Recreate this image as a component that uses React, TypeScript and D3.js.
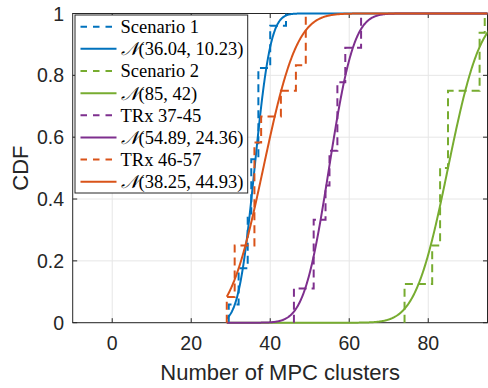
import React from "react";
import * as d3 from "d3";

// ---- data ----
const xTicks = [0, 20, 40, 60, 80];
const yTicks = [0, 0.2, 0.4, 0.6, 0.8, 1];
const yTickLabels = ["0", "0.2", "0.4", "0.6", "0.8", "1"];

// empirical CDF steps (x where step occurs, CDF level after step)
const s1X = [29.5, 32, 34.3, 35.2, 37, 40, 44];
const s1P = [0.059, 0.176, 0.353, 0.529, 0.824, 0.96, 1];
const s2X = [74, 81, 83, 85, 93, 94.3];
const s2P = [0.125, 0.25, 0.5, 0.75, 0.9375, 1];
const trxAX = [46, 51, 54, 55, 57, 59, 63];
const trxAP = [0.111, 0.333, 0.444, 0.556, 0.778, 0.889, 1];
const trxBX = [29, 31, 36, 37.7, 42.7, 46.5, 49];
const trxBP = [0.083, 0.25, 0.583, 0.667, 0.75, 0.833, 1];

// fitted normals N(mu, variance)
const fitMu = [36.04, 85, 54.89, 38.25];
const fitVar = [10.23, 42, 24.36, 44.93];
const fitStart = 29;
const fitEnd = 96;

const colors = ["#0072BD", "#77AC30", "#7E2F8E", "#D95319"];
const dashedNames = ["Scenario 1", "Scenario 2", "TRx 37-45", "TRx 46-57"];

const W = 488;
const H = 388;
const L = 72.7, R = 487.5, T = 13.5, B = 322.7;

function erf(x: number) {
  const s = x < 0 ? -1 : 1;
  const a = Math.abs(x);
  const t = 1 / (1 + 0.3275911 * a);
  const y = 1 - (((((1.061405429 * t - 1.453152027) * t) + 1.421413741) * t - 0.284496736) * t + 0.254829592) * t * Math.exp(-a * a);
  return s * y;
}
const normCdf = (x: number, mu: number, v: number) => 0.5 * (1 + erf((x - mu) / Math.sqrt(2 * v)));

export default function App() {
  const x = d3.scaleLinear().domain([-10, 95]).range([L, R]);
  const y = d3.scaleLinear().domain([0, 1]).range([B, T]);

  const stairs = [
    [s1X, s1P],
    [s2X, s2P],
    [trxAX, trxAP],
    [trxBX, trxBP],
  ];
  const stairPath = (xs: number[], ps: number[]) => {
    const pts: [number, number][] = [[xs[0], 0]];
    xs.forEach((xv, i) => {
      if (i > 0) pts.push([xv, ps[i - 1]]);
      pts.push([xv, ps[i]]);
    });
    return d3.line<[number, number]>().x((d) => x(d[0])).y((d) => y(d[1]))(pts) || "";
  };
  const grid = d3.range(fitStart, fitEnd + 0.001, 0.1);
  const fitPath = (k: number) =>
    d3.line<number>().x((d) => x(d)).y((d) => y(normCdf(d, fitMu[k], fitVar[k])))(grid) || "";

  const fitLabels = fitMu.map((m, k) => `(${m}, ${fitVar[k]})`);

  const legendItems: { label: string; k: number; dashed: boolean; fit: boolean }[] = [];
  for (let k = 0; k < 4; k++) {
    legendItems.push({ label: dashedNames[k], k, dashed: true, fit: false });
    legendItems.push({ label: fitLabels[k], k, dashed: false, fit: true });
  }

  const sans = "'Liberation Sans', Arial, Helvetica, sans-serif";
  const serif = "'Liberation Serif', 'Times New Roman', serif";
  const axisColor = "#262626";
  const tickLen = 4.5;

  const lgX = 75, lgY = 15, lgW = 172.7, lgH = 178;
  const rowY0 = 26.7, rowDy = 22.15;

  return (
    <svg width={W} height={H} style={{ position: "absolute", left: 0, top: 0, background: "#fff" }}>
      <defs>
        <clipPath id="plotclip">
          <rect x={L} y={T - 2} width={R - L} height={B - T + 4} />
        </clipPath>
      </defs>
      <rect x={0} y={0} width={W} height={H} fill="#fff" />
      {/* grid */}
      {xTicks.map((t) => (
        <line key={"gx" + t} x1={x(t)} x2={x(t)} y1={T} y2={B} stroke="#e6e6e6" strokeWidth={1} />
      ))}
      {yTicks.map((t) => (
        <line key={"gy" + t} x1={L} x2={R} y1={y(t)} y2={y(t)} stroke="#e6e6e6" strokeWidth={1} />
      ))}
      {/* box */}
      <rect x={L} y={T} width={R - L} height={B - T} fill="none" stroke={axisColor} strokeWidth={1} />
      {/* ticks */}
      {xTicks.map((t) => (
        <g key={"tx" + t}>
          <line x1={x(t)} x2={x(t)} y1={B} y2={B - tickLen} stroke={axisColor} />
          <line x1={x(t)} x2={x(t)} y1={T} y2={T + tickLen} stroke={axisColor} />
          <text x={x(t)} y={350} textAnchor="middle" fontFamily={sans} fontSize={19.5} fill={axisColor}>
            {t}
          </text>
        </g>
      ))}
      {yTicks.map((t, i) => (
        <g key={"ty" + t}>
          <line x1={L} x2={L + tickLen} y1={y(t)} y2={y(t)} stroke={axisColor} />
          <line x1={R} x2={R - tickLen} y1={y(t)} y2={y(t)} stroke={axisColor} />
          <text x={64} y={y(t)} dy="0.36em" textAnchor="end" fontFamily={sans} fontSize={19.5} fill={axisColor}>
            {yTickLabels[i]}
          </text>
        </g>
      ))}
      {/* series */}
      <g clipPath="url(#plotclip)" fill="none" strokeWidth={2}>
        {[0, 1, 2, 3].map((k) => (
          <g key={"s" + k}>
            <path d={stairPath(stairs[k][0], stairs[k][1])} stroke={colors[k]} strokeDasharray="8,5" />
            <path d={fitPath(k)} stroke={colors[k]} />
          </g>
        ))}
      </g>
      {/* axis labels */}
      <text x={(L + R) / 2} y={380} textAnchor="middle" fontFamily={sans} fontSize={22} fill={axisColor}>
        Number of MPC clusters
      </text>
      <text
        transform={`translate(28, ${(T + B) / 2}) rotate(-90)`}
        textAnchor="middle"
        fontFamily={sans}
        fontSize={22}
        fill={axisColor}
      >
        CDF
      </text>
      {/* legend */}
      <rect x={lgX} y={lgY} width={lgW} height={lgH} fill="#fff" stroke={axisColor} strokeWidth={1} />
      {legendItems.map((it, i) => {
        const cy = rowY0 + i * rowDy;
        return (
          <g key={"lg" + i}>
            <line
              x1={80.5}
              x2={116.5}
              y1={cy}
              y2={cy}
              stroke={colors[it.k]}
              strokeWidth={2}
              strokeDasharray={it.dashed ? "6.5,6" : undefined}
            />
            <text x={120.5} y={cy} dy="0.35em" fontFamily={serif} fontSize={18.5} fill="#000">
              {it.fit ? (
                <>
                  <tspan fontStyle="italic">𝒩</tspan>
                  {it.label}
                </>
              ) : (
                it.label
              )}
            </text>
          </g>
        );
      })}
    </svg>
  );
}
